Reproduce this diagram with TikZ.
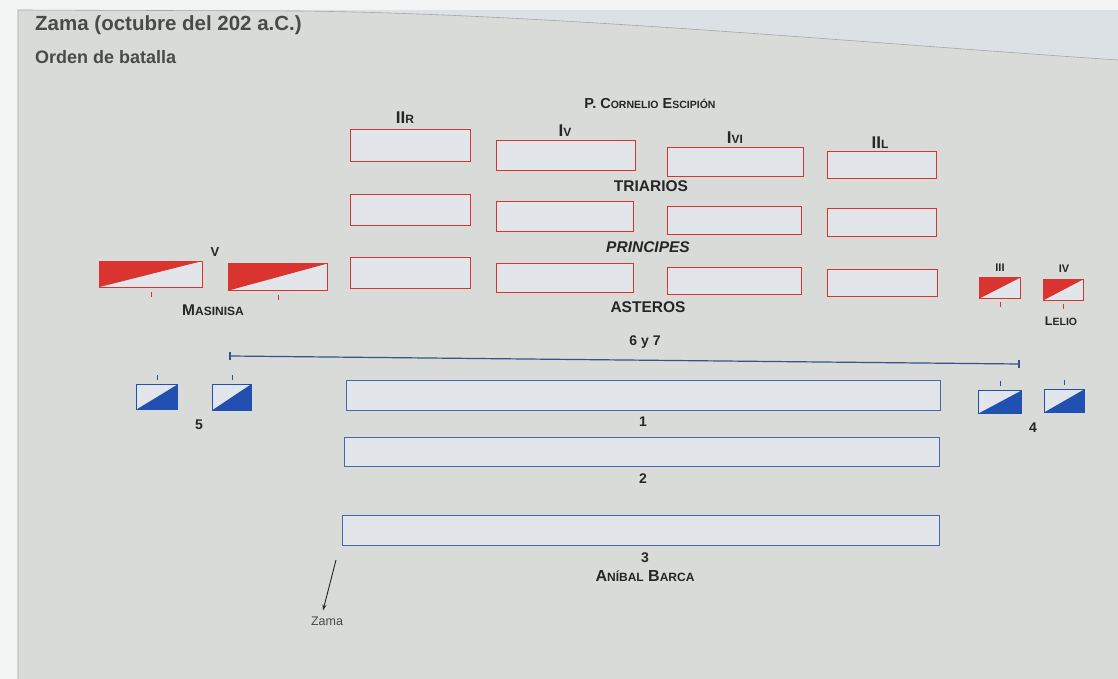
\documentclass[tikz,border=0pt]{standalone}
\usepackage{fontspec}
\setmainfont{Liberation Sans}
\usetikzlibrary{calc,arrows.meta}
\definecolor{pagebg}{HTML}{D8DBD7}
\definecolor{outbg}{HTML}{F2F3F3}
\definecolor{stripbg}{HTML}{DCE1E5}
\definecolor{zred}{HTML}{D9342F}
\definecolor{zblue}{HTML}{2150B0}
\definecolor{lblue}{HTML}{4A64AE}
\definecolor{boxfill}{HTML}{E2E5EA}
\definecolor{txt}{HTML}{262626}
\definecolor{ttl}{HTML}{4A4A4A}
\newcommand\zsc[1]{{\fontsize{12}{14}\selectfont #1}}
\newcommand\zscs[1]{{\fontsize{10.5}{12}\selectfont #1}}
\tikzset{
  rbox/.style={draw=zred, line width=1pt, fill=boxfill, inner sep=0pt},
  bbox/.style={draw=lblue, line width=1pt, fill=boxfill, inner sep=0pt},
  redunit/.style={rbox, path picture={\fill[zred] (path picture bounding box.north west) -- (path picture bounding box.north east) -- (path picture bounding box.south west) -- cycle;}},
  blueunit/.style={draw=zblue, line width=1pt, fill=boxfill, inner sep=0pt, path picture={\fill[zblue] (path picture bounding box.south west) -- (path picture bounding box.north east) -- (path picture bounding box.south east) -- cycle;}},
  lab/.style={font=\bfseries\fontsize{15.5}{18}\selectfont, text=txt, inner sep=1pt},
  numlab/.style={font=\bfseries\fontsize{14}{16}\selectfont, text=txt, inner sep=1pt},
  romlab/.style={font=\bfseries\fontsize{17}{19}\selectfont, text=txt, inner sep=1pt},
  smallrom/.style={font=\bfseries\fontsize{13}{15}\selectfont, text=txt, inner sep=1pt},
  rtick/.style={draw=zred, line width=0.8pt},
  btick/.style={draw=zblue, line width=0.8pt},
}
\begin{document}
\begin{tikzpicture}[x=1pt,y=-1pt]
\useasboundingbox (0,0) rectangle (1118,679);
% page
\fill[outbg] (0,0) rectangle (1118,679);
\fill[stripbg] (18,10) rectangle (1118,679);
\fill[pagebg] (18,10) -- (300,11) .. controls (550,14) and (850,42) .. (1118,60) -- (1118,679) -- (18,679) -- cycle;
\draw[gray!70, line width=0.6pt] (18,679) -- (18,10) -- (300,11) .. controls (550,14) and (850,42) .. (1118,60);
% titles
\node[anchor=west, font=\bfseries\fontsize{20.5}{24}\selectfont, text=ttl, inner sep=0pt] (title) at (35,25) {Zama (octubre del 202 a.C.)};
\node[anchor=west, font=\bfseries\fontsize{18}{21}\selectfont, text=ttl, inner sep=0pt] (subtitle) at (35,57) {Orden de batalla};
% Scipio
\node[lab, font=\bfseries\fontsize{14.5}{17}\selectfont] (scipio) at (650,104) {P. C\zscs{ORNELIO} E\zscs{SCIPIÓN}};
% triarios row
\node[rbox, minimum width=120pt, minimum height=32pt] (t1) at (410,146) {};
\node[rbox, minimum width=139pt, minimum height=30pt] (t2) at (566,156) {};
\node[rbox, minimum width=136pt, minimum height=29pt] (t3) at (735,162) {};
\node[rbox, minimum width=109pt, minimum height=27pt] (t4) at (882,165) {};
\node[romlab] (l1) at (405,118) {II\zsc{R}};
\node[romlab] (l2) at (565,131) {I\zsc{V}};
\node[romlab] (l3) at (735,138) {I\zsc{VI}};
\node[romlab] (l4) at (880,143) {II\zsc{L}};
\node[lab] (triarios) at (651,186) {TRIARIOS};
% principes row
\node[rbox, minimum width=120pt, minimum height=31pt] (p1) at (410,210) {};
\node[rbox, minimum width=137pt, minimum height=30pt] (p2) at (565,216) {};
\node[rbox, minimum width=134pt, minimum height=28pt] (p3) at (734,220) {};
\node[rbox, minimum width=109pt, minimum height=28pt] (p4) at (882,222) {};
\node[lab, font=\bfseries\itshape\fontsize{15.5}{18}\selectfont] (principes) at (648,247) {PRINCIPES};
% asteros row
\node[rbox, minimum width=120pt, minimum height=31pt] (a1) at (410,273) {};
\node[rbox, minimum width=137pt, minimum height=29pt] (a2) at (565,278) {};
\node[rbox, minimum width=134pt, minimum height=27pt] (a3) at (734,281) {};
\node[rbox, minimum width=110pt, minimum height=27pt] (a4) at (882,283) {};
\node[lab] (asteros) at (648,307) {ASTEROS};
% Masinisa
\node[redunit, minimum width=103pt, minimum height=26pt] (m1) at (151,274) {};
\node[redunit, minimum width=99pt, minimum height=27pt] (m2) at (278,277) {};
\draw[rtick] ($(m1.south)+(0,4)$) -- ++(0,5);
\draw[rtick] ($(m2.south)+(0,4)$) -- ++(0,5);
\node[smallrom] (v) at (215,252) {V};
\node[lab, font=\bfseries\fontsize{15.5}{18}\selectfont] (masinisa) at (213,310) {M\zsc{ASINISA}};
% Lelio
\node[redunit, minimum width=41pt, minimum height=21pt] (e1) at (1000,288) {};
\node[redunit, minimum width=40pt, minimum height=21pt] (e2) at (1063,290) {};
\draw[rtick] ($(e1.south)+(0,3)$) -- ++(0,5);
\draw[rtick] ($(e2.south)+(0,3)$) -- ++(0,5);
\node[smallrom, font=\bfseries\fontsize{11}{13}\selectfont] (iii) at (1000,268) {III};
\node[smallrom, font=\bfseries\fontsize{11}{13}\selectfont] (iv) at (1064,269) {IV};
\node[lab, font=\bfseries\fontsize{12.5}{15}\selectfont] (lelio) at (1061,321) {L\zscs{ELIO}};
% 6 y 7 line
\coordinate (s1) at (230,356);
\coordinate (s2) at (1019,364);
\draw[lblue!80!black, line width=1.2pt] (s1) -- (s2);
\draw[lblue!80!black, line width=1.2pt] ($(s1)+(0,-4)$) -- ($(s1)+(0,4)$);
\draw[lblue!80!black, line width=1.2pt] ($(s2)+(0,-4)$) -- ($(s2)+(0,4)$);
\node[numlab] (sy7) at (645,342) {6 y 7};
% Blue units
\node[blueunit, minimum width=41pt, minimum height=25pt] (b1) at (157,397) {};
\node[blueunit, minimum width=39pt, minimum height=26pt] (b2) at (232,397) {};
\node[blueunit, minimum width=43pt, minimum height=23pt] (b3) at (1000,402) {};
\node[blueunit, minimum width=40pt, minimum height=23pt] (b4) at (1064,401) {};
\draw[btick] ($(b1.north)+(0,-4)$) -- ++(0,-5);
\draw[btick] ($(b2.north)+(0,-4)$) -- ++(0,-5);
\draw[btick] ($(b3.north)+(0,-4)$) -- ++(0,-5);
\draw[btick] ($(b4.north)+(0,-4)$) -- ++(0,-5);
\node[numlab] (n5) at (199,425) {5};
\node[numlab] (n4) at (1033,428) {4};
% Hannibal lines
\node[bbox, minimum width=594pt, minimum height=30pt] (h1) at (643,395) {};
\node[numlab] (n1) at (643,422) {1};
\node[bbox, minimum width=595pt, minimum height=29pt] (h2) at (642,452) {};
\node[numlab] (n2) at (643,479) {2};
\node[bbox, minimum width=597pt, minimum height=30pt] (h3) at (641,530) {};
\node[numlab] (n3) at (645,558) {3};
\node[lab, font=\bfseries\fontsize{16}{19}\selectfont] (anibal) at (645,576) {A\zsc{NÍBAL} B\zsc{ARCA}};
% Zama arrow
\node[font=\fontsize{12.5}{15}\selectfont, text=ttl, inner sep=1pt] (zama) at (327,621) {Zama};
\coordinate (zs) at (336,560);
\draw[txt, line width=0.9pt, -{Stealth[length=6pt,width=4pt]}] (zs) -- ($(zama.north)+(-4,-5)$);
\end{tikzpicture}
\end{document}
